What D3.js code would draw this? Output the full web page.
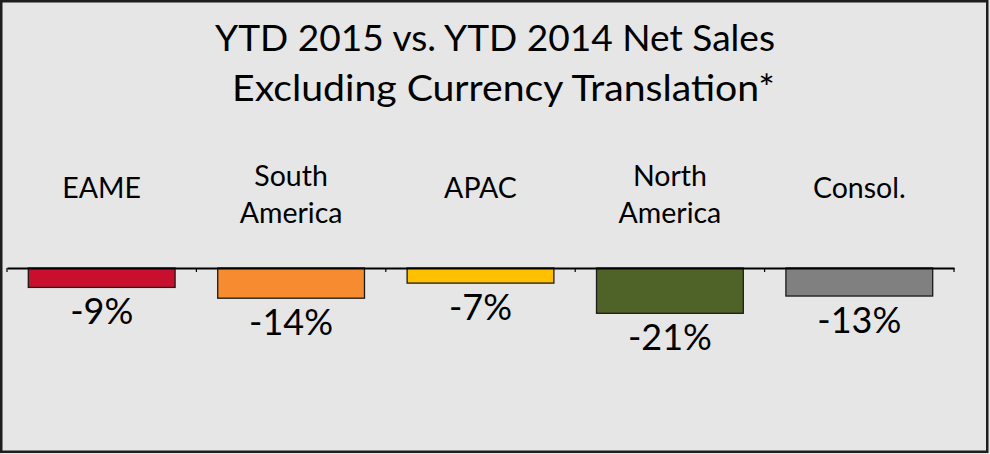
<!DOCTYPE html>
<html>
<head>
<meta charset="utf-8">
<script src="https://cdn.jsdelivr.net/npm/d3@7"></script>
<style>
  html, body { margin: 0; padding: 0; background: #e6e6e6; }
  svg { display: block; }
  text { font-family: Lato, "Open Sans", sans-serif; fill: #000; }
</style>
</head>
<body>
<svg id="chart"></svg>
<script>
const titleLines = ['YTD 2015 vs. YTD 2014 Net Sales', 'Excluding Currency Translation*']
const categories = ['EAME', 'South America', 'APAC', 'North America', 'Consol.']
const values = [-9, -14, -7, -21, -13]
const colors = ['#c8102e', '#f68b2f', '#ffc000', '#4f6228', '#808080']

const width = 990, height = 454
const baseY = 268

const svg = d3.select('#chart').attr('width', width).attr('height', height)

// frame
svg.append('rect')
  .attr('x', 1.25).attr('y', 1.25)
  .attr('width', 986).attr('height', 450.5)
  .attr('fill', '#e6e6e6')
  .attr('stroke', '#1e1e1e')
  .attr('stroke-width', 2.5)

// title
const titleX = [215, 232], titleW = [560, 543], titleBase = [51, 100.5]
svg.selectAll('text.title')
  .data(titleLines)
  .enter().append('text')
  .attr('class', 'title')
  .attr('x', (d, i) => titleX[i])
  .attr('y', (d, i) => titleBase[i])
  .attr('textLength', (d, i) => titleW[i])
  .attr('lengthAdjust', 'spacingAndGlyphs')
  .style('font-size', '37.5px')
  .text(d => d)

const x = d3.scaleBand()
  .domain(categories)
  .range([7, 954])
  .paddingInner(0.225)
  .paddingOuter(0.1125)

const y = d3.scaleLinear()
  .domain([0, -25])
  .range([baseY, baseY + 2.157 * 25])

// bars
svg.append('g').selectAll('rect')
  .data(values)
  .enter().append('rect')
  .attr('x', (d, i) => x(categories[i]))
  .attr('y', y(0))
  .attr('width', x.bandwidth())
  .attr('height', d => y(d) - y(0))
  .attr('fill', (d, i) => colors[i])
  .attr('stroke', '#1a1a1a')
  .attr('stroke-width', 1.3)

// baseline axis with ticks at band edges
const axis = d3.axisBottom(x).tickSize(0).tickFormat('')
const ax = svg.append('g').attr('transform', `translate(0,${baseY})`).call(axis)
ax.select('.domain').attr('stroke', '#000').attr('stroke-width', 2)
const step = x.step()
const edges = d3.range(categories.length + 1).map(i => 7 + i * (947 / categories.length))
ax.selectAll('line.edge')
  .data(edges)
  .enter().append('line')
  .attr('class', 'edge')
  .attr('x1', d => d).attr('x2', d => d)
  .attr('y1', 0).attr('y2', 4)
  .attr('stroke', '#000').attr('stroke-width', 1.2)

// category labels
const cx = c => x(c) + x.bandwidth() / 2
categories.forEach(c => {
  const lines = c.split(' ')
  const t = svg.append('text')
    .attr('text-anchor', 'middle')
    .style('font-size', '28.5px')
  const base = lines.length > 1 ? 186 : 198
  lines.forEach((l, j) => {
    t.append('tspan')
      .attr('x', cx(c))
      .attr('y', base + j * 36.5)
      .text(l)
  })
})

// value labels
svg.append('g').selectAll('text')
  .data(values)
  .enter().append('text')
  .attr('text-anchor', 'middle')
  .attr('x', (d, i) => cx(categories[i]))
  .attr('y', d => y(d) + 37)
  .style('font-size', '36px')
  .text(d => `${d}%`)
</script>
</body>
</html>
